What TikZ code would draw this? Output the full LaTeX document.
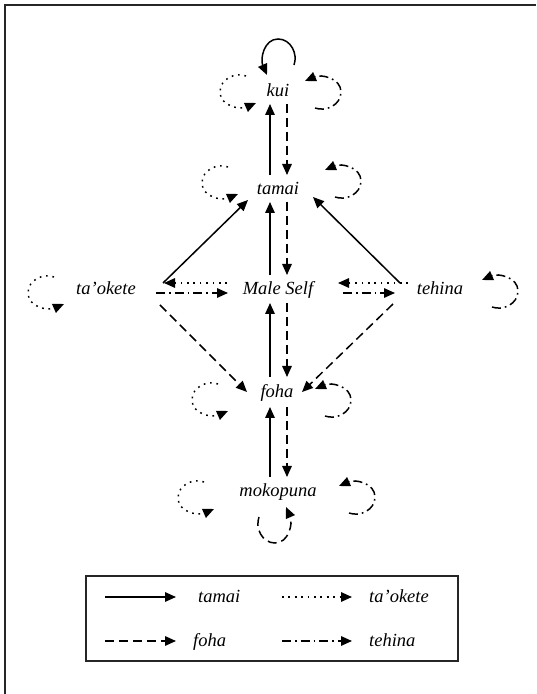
\documentclass[tikz,border=0pt]{standalone}
\usepackage{fontspec}
\setmainfont{Liberation Serif}
\usetikzlibrary{arrows.meta}
\tikzset{
  lbl/.style={font=\fontsize{18.5}{22}\selectfont\itshape, inner sep=0pt},
  lnk/.style={line width=1.5pt, -{Triangle[length=11pt,width=9.5pt]}},
  tam/.style={lnk},
  foh/.style={lnk, dash pattern=on 9pt off 5pt},
  tao/.style={lnk, dash pattern=on 1.7pt off 4.7pt},
  teh/.style={lnk, dash pattern=on 9pt off 4pt on 1.7pt off 4pt},
  frame/.style={line width=1.5pt, black!85},
  pics/selfloop/.style={code={
    \draw[#1] (8,16) .. controls (-3,20) and (-18,13) .. (-18,0)
      .. controls (-18,-14) and (2,-18) .. (18,-11);}},
}
\begin{document}
\begin{tikzpicture}[x=1pt,y=1pt]
\useasboundingbox (0,0) rectangle (536,694);
\draw[frame] (5,0) -- (5,689) -- (536,689);

% kin terms
\node[lbl, anchor=base] (kui)     at (278,597) {kui};
\node[lbl, anchor=base] (tamai)   at (278,499) {tamai};
\node[lbl, anchor=base] (self)    at (278,399) {Male Self};
\node[lbl, anchor=base] (taokete) at (106,399) {ta’okete};
\node[lbl, anchor=base] (tehina)  at (440,399) {tehina};
\node[lbl, anchor=base] (foha)    at (277,296) {foha};
\node[lbl, anchor=base] (moko)    at (278,197) {mokopuna};

% vertical links
\draw[foh] ([shift={(9,-7)}]kui.base) -- ([shift={(9,20)}]tamai.base);
\draw[tam] ([shift={(-8,20)}]tamai.base) -- ([shift={(-8,-7)}]kui.base);
\draw[foh] ([shift={(9,-7)}]tamai.base) -- ([shift={(9,20)}]self.base);
\draw[tam] ([shift={(-8,20)}]self.base) -- ([shift={(-8,-7)}]tamai.base);
\draw[foh] ([shift={(9,-8)}]self.base) -- ([shift={(10,21)}]foha.base);
\draw[tam] ([shift={(-7,21)}]foha.base) -- ([shift={(-8,-8)}]self.base);
\draw[foh] ([shift={(10,-9)}]foha.base) -- ([shift={(9,20)}]moko.base);
\draw[tam] ([shift={(-8,20)}]moko.base) -- ([shift={(-7,-9)}]foha.base);

% siblings to tamai and foha
\draw[tam] ([shift={(57,12)}]taokete.base) -- ([shift={(-30,-5)}]tamai.base);
\draw[tam] ([shift={(-40,12)}]tehina.base) -- ([shift={(35,-2)}]tamai.base);
\draw[foh] ([shift={(54,-10)}]taokete.base) -- ([shift={(-30,6)}]foha.base);
\draw[foh] ([shift={(-47,-9)}]tehina.base) -- ([shift={(25,6)}]foha.base);

% horizontal links
\draw[tao] ([shift={(-51,12)}]self.base) -- ([shift={(58,12)}]taokete.base);
\draw[teh] ([shift={(50,2)}]taokete.base) -- ([shift={(-50,2)}]self.base);
\draw[tao] ([shift={(-32,12)}]tehina.base) -- ([shift={(60,12)}]self.base);
\draw[teh] ([shift={(65,2)}]self.base) -- ([shift={(-45,2)}]tehina.base);

% self loops
\pic[rotate=-90] at ([shift={(0,40)}]kui.base) {selfloop=tam};
\pic at ([shift={(-40,5)}]kui.base) {selfloop=tao};
\pic[rotate=180] at ([shift={(45,5)}]kui.base) {selfloop=teh};
\pic at ([shift={(-58,12)}]tamai.base) {selfloop=tao};
\pic[rotate=180] at ([shift={(65,14)}]tamai.base) {selfloop=teh};
\pic at ([shift={(-60,2)}]taokete.base) {selfloop=tao};
\pic[rotate=180] at ([shift={(60,4)}]tehina.base) {selfloop=teh};
\pic at ([shift={(-67,-2)}]foha.base) {selfloop=tao};
\pic[rotate=180] at ([shift={(56,-2)}]foha.base) {selfloop=teh};
\pic at ([shift={(-82,-1)}]moko.base) {selfloop=tao};
\pic[rotate=180] at ([shift={(79,0)}]moko.base) {selfloop=teh};
\pic[rotate=90] at ([shift={(-3,-28)}]moko.base) {selfloop=foh};

% legend
\draw[line width=1.2pt, black!85] (86,33) rectangle (458,118);
\coordinate (a1) at (105,97);  \coordinate (b1) at (176,97);
\coordinate (a2) at (282,97);  \coordinate (b2) at (352,97);
\coordinate (a3) at (105,53);  \coordinate (b3) at (176,53);
\coordinate (a4) at (282,53);  \coordinate (b4) at (352,53);
\draw[tam] (a1) -- (b1);
\draw[tao] (a2) -- (b2);
\draw[foh] (a3) -- (b3);
\draw[teh] (a4) -- (b4);
\node[lbl, anchor=base west] (ltam) at (198,91) {tamai};
\node[lbl, anchor=base west] (ltao) at (369,91) {ta’okete};
\node[lbl, anchor=base west] (lfoh) at (193,47) {foha};
\node[lbl, anchor=base west] (lteh) at (369,47) {tehina};
\end{tikzpicture}
\end{document}
